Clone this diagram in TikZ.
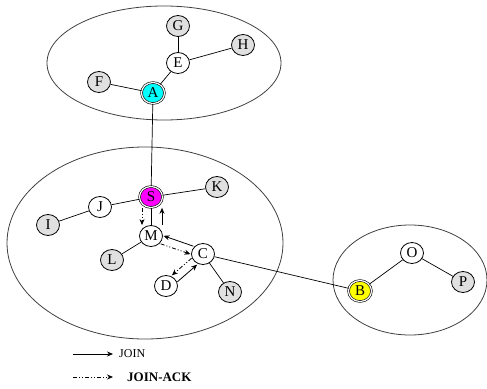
\documentclass[tikz,border=0pt]{standalone}
\usepackage{fontspec}
\setmainfont{Liberation Serif}
\usetikzlibrary{shapes.geometric,arrows.meta}
\definecolor{acyan}{RGB}{0,255,255}
\definecolor{amag}{RGB}{255,0,255}
\definecolor{ayel}{RGB}{255,255,0}
\definecolor{agray}{RGB}{224,224,224}
\tikzset{
  nd/.style={ellipse,draw=black,line width=0.8pt,minimum width=23pt,minimum height=21pt,inner sep=0pt,font=\fontsize{15}{15}\selectfont},
  gnode/.style={nd,fill=agray},
  wnode/.style={nd,fill=white},
  snode/.style={nd,fill=#1,double=white,double distance=1.2pt,line width=0.6pt},
  link/.style={line width=0.7pt},
  region/.style={draw=black!75,line width=0.8pt},
  joinarrow/.style={line width=0.8pt,-{Stealth[length=6pt,width=5pt]}},
  ackarrow/.style={line width=0.8pt,dash pattern=on 4pt off 2pt on 1pt off 2pt on 1pt off 2pt,-{Stealth[length=6pt,width=5pt]}},
}
\begin{document}
\begin{tikzpicture}[x=1pt,y=-1pt]
\useasboundingbox (0,0) rectangle (487,388);
% regions
\draw[region] (164,63) ellipse [x radius=117,y radius=57];
\draw[region] (145,243) ellipse [x radius=138,y radius=96];
\draw[region] (410,280) ellipse [x radius=77,y radius=55];
% nodes
\node[gnode] (G) at (178,26) {G};
\node[gnode] (H) at (243,45) {H};
\node[wnode] (E) at (178,63) {E};
\node[gnode] (F) at (99,82) {F};
\node[snode=acyan] (A) at (153,93) {A};
\node[snode=amag] (S) at (151,197) {S};
\node[gnode] (K) at (217,187) {K};
\node[wnode] (J) at (100,207) {J};
\node[gnode] (I) at (48,225) {I};
\node[wnode] (M) at (151,236) {M};
\node[gnode] (L) at (112,260) {L};
\node[wnode] (C) at (203,254) {C};
\node[wnode] (D) at (166,286) {D};
\node[gnode] (N) at (230,292) {N};
\node[wnode] (O) at (412,253) {O};
\node[gnode] (P) at (463,282) {P};
\node[snode=ayel] (B) at (360,291) {B};
% edges
\draw[link] (A) -- (E);
\draw[link] (E) -- (G);
\draw[link] (E) -- (H);
\draw[link] (A) -- (F);
\draw[link] (A) -- (S);
\draw[link] (S) -- (J);
\draw[link] (J) -- (I);
\draw[link] (S) -- (K);
\draw[link] (S) -- (M);
\draw[link] (M) -- (L);
\draw[link] (C) -- (N);
\draw[link] (C) -- (B);
\draw[link] (B) -- (O);
\draw[link] (O) -- (P);
% join / ack arrows
\draw[joinarrow,transform canvas={xshift=11pt}] (M) -- (S);
\draw[ackarrow,transform canvas={xshift=-9pt}] (S) -- (M);
\draw[joinarrow,transform canvas={xshift=1.4pt,yshift=4pt}] (C) -- (M);
\draw[ackarrow,transform canvas={xshift=-1.4pt,yshift=-4pt}] (M) -- (C);
\draw[joinarrow,transform canvas={xshift=2.8pt,yshift=-3.2pt}] (D) -- (C);
\draw[ackarrow,transform canvas={xshift=-2.8pt,yshift=3.2pt}] (C) -- (D);
% legend
\coordinate (l1a) at (73,354);
\coordinate (l1b) at (113,354);
\coordinate (l2a) at (73,377);
\coordinate (l2b) at (113,377);
\draw[joinarrow] (l1a) -- (l1b);
\draw[ackarrow] (l2a) -- (l2b);
\node[anchor=west,inner sep=0pt,font=\fontsize{12}{12}\selectfont] (t1) at (119,354) {JOIN};
\node[anchor=west,inner sep=0pt,font=\fontsize{13}{13}\selectfont\bfseries] (t2) at (127,377) {JOIN-ACK};
\end{tikzpicture}
\end{document}
